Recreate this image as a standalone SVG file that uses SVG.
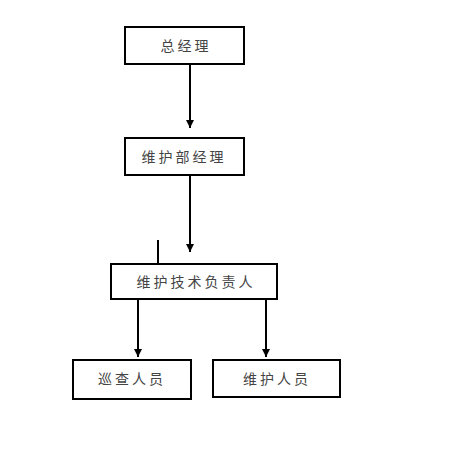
<svg xmlns="http://www.w3.org/2000/svg" width="458" height="468" viewBox="0 0 458 468">
<defs>
<marker id="ah" viewBox="0 0 10 10" refX="10" refY="5" markerWidth="4" markerHeight="4" orient="auto" markerUnits="strokeWidth">
<path d="M0,0 L10,5 L0,10 Z" fill="#000"/>
</marker>
<style>
.box{fill:#fff;stroke:#000;stroke-width:2}
.lbl{font-family:"Liberation Sans","Noto Sans CJK SC",sans-serif;font-size:14px;fill:#444;text-anchor:middle;dominant-baseline:central;letter-spacing:3px}
.con{stroke:#000;stroke-width:2;fill:none}
</style>
</defs>
<rect width="458" height="468" fill="#fff"/>
<g id="connectors">
<line class="con" x1="190" y1="64" x2="190" y2="128" marker-end="url(#ah)"/>
<line class="con" x1="190" y1="175" x2="190" y2="252" marker-end="url(#ah)"/>
<line class="con" x1="158" y1="240" x2="158" y2="263"/>
<line class="con" x1="138" y1="299" x2="138" y2="357" marker-end="url(#ah)"/>
<line class="con" x1="266" y1="299" x2="266" y2="357" marker-end="url(#ah)"/>
</g>
<g id="n1"><rect class="box" x="125" y="27" width="119" height="37"/><text class="lbl" x="186" y="46">总经理</text></g>
<g id="n2"><rect class="box" x="125" y="138" width="119" height="37"/><text class="lbl" x="184" y="157">维护部经理</text></g>
<g id="n3"><rect class="box" x="111" y="264" width="166" height="35"/><text class="lbl" x="196" y="282">维护技术负责人</text></g>
<g id="n4"><rect class="box" x="73" y="360" width="118" height="39"/><text class="lbl" x="132" y="379">巡查人员</text></g>
<g id="n5"><rect class="box" x="213" y="360" width="127" height="37"/><text class="lbl" x="277" y="379">维护人员</text></g>
</svg>
